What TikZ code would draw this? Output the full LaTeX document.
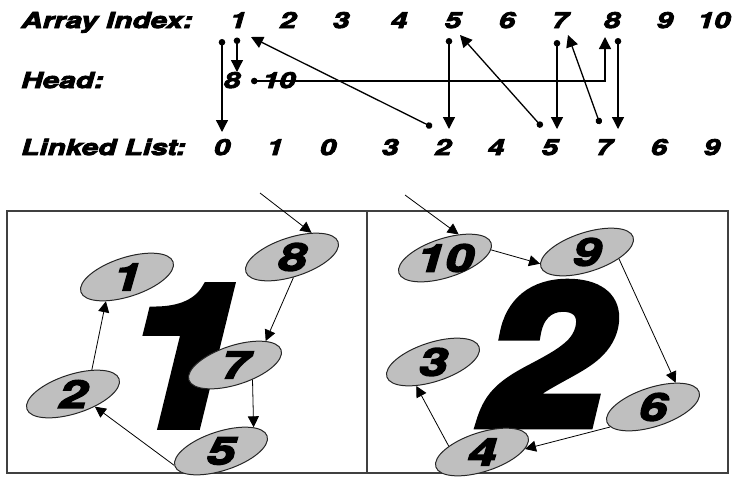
\documentclass[tikz,border=0pt]{standalone}
\usepackage{fontspec}
\usetikzlibrary{arrows.meta,shapes.geometric}
\newfontfamily\blk{texgyreheros-bolditalic}[Extension=.otf,FakeStretch=1.35,FakeBold=4]
\newfontfamily\bigf{texgyreheros-bolditalic}[Extension=.otf,FakeStretch=1.15,FakeBold=6]
\begin{document}
\begin{tikzpicture}[x=1pt,y=-1pt,
  lbl/.style={font=\blk\fontsize{22}{24}\selectfont, inner sep=0pt, anchor=base},
  num/.style={font=\blk\fontsize{22}{24}\selectfont, inner sep=0pt, anchor=base},
  big/.style={font=\bigf\fontsize{192}{200}\selectfont, inner sep=0pt},
  ell/.style={ellipse, draw=black!85, fill=black!25, line width=1pt,
    minimum width=97pt, minimum height=39pt, inner sep=0pt, rotate=18},
  elltxt/.style={font=\blk\fontsize{38}{40}\selectfont, inner sep=0pt},
  tarr/.style={line width=1.3pt, {Circle[length=6.5pt]}-{Triangle[length=12pt,width=12pt]}},
  parr/.style={line width=0.8pt, -{Triangle[length=11pt,width=11pt]}},
  panel/.style={draw=black!75, line width=1.3pt}]
\useasboundingbox (0,0) rectangle (744,483);

% rows
\node[lbl, anchor=base west] (ai) at (21,28) {Array Index:};
\node[lbl, anchor=base west] (hd) at (21,88) {Head:};
\node[lbl, anchor=base west] (ll) at (21,155) {Linked List:};

\foreach \n/\x in {1/238,2/288,3/341,4/399,5/453,6/507,7/560,8/612,9/665,10/714}
  \node[num] (i\n) at (\x,28) {\n};

\node[num] (h8) at (232,88) {8};
\node[num] (h10) at (279,88) {10};

\foreach \k/\v/\x in {1/0/222,2/1/275,3/0/328,4/3/390,5/2/443,6/4/496,7/5/550,8/7/604,9/6/659,10/9/712}
  \node[num] (l\k) at (\x,155) {\v};

% top connectors
\coordinate (dA) at (222,39);   \coordinate (eA) at (222,132);
\coordinate (dB) at (237,37.5); \coordinate (eB) at (237,72);
\coordinate (dC) at (432,127);  \coordinate (eC) at (251,37);
\coordinate (dD) at (251,81);   \coordinate (kD) at (605,81); \coordinate (eD) at (605,37);
\coordinate (dE) at (449,38);   \coordinate (eE) at (449,129);
\coordinate (dF) at (542,127);  \coordinate (eF) at (460,35);
\coordinate (dG) at (557,40);   \coordinate (eG) at (557,129);
\coordinate (dH) at (600,124);  \coordinate (eH) at (568,35);
\coordinate (dI) at (618,38);   \coordinate (eI) at (618,129);

\draw[tarr] (dA) -- (eA);
\draw[tarr] (dB) -- (eB);
\draw[tarr] (dC) -- (eC);
\draw[tarr] (dD) -- (kD) -- (eD);
\draw[tarr] (dE) -- (eE);
\draw[tarr] (dF) -- (eF);
\draw[tarr] (dG) -- (eG);
\draw[tarr] (dH) -- (eH);
\draw[tarr] (dI) -- (eI);

% panels
\draw[panel] (7,211) rectangle (367,473);
\draw[panel] (367,211) rectangle (728,473);

\node[big] (b1) at (182,356) {1};
\node[big] (b2) at (545,354) {2};

% left ellipses
\node[ell] (e1) at (127,277) {};
\node[ell] (e8) at (292,257) {};
\node[ell] (e7) at (235,365) {};
\node[ell] (e2) at (73,394) {};
\node[ell] (e5) at (221,451) {};
\node[elltxt] (t1) at (e1) {1};
\node[elltxt] (t8) at (e8) {8};
\node[elltxt] (t7) at (e7) {7};
\node[elltxt] (t2) at (e2) {2};
\node[elltxt] (t5) at (e5) {5};

% right ellipses
\node[ell] (e10) at (445,258) {};
\node[ell] (e9) at (587,252) {};
\node[ell] (e3) at (433,362) {};
\node[ell] (e6) at (653,407) {};
\node[ell] (e4) at (482,452) {};
\node[elltxt] (t10) at (e10) {10};
\node[elltxt] (t9) at (e9) {9};
\node[elltxt] (t3) at (e3) {3};
\node[elltxt] (t6) at (e6) {6};
\node[elltxt] (t4) at (e4) {4};

% panel connectors
\coordinate (s1) at (260,193);
\coordinate (s2) at (405,195);
\draw[parr] (s1) -- (e8.33);
\draw[parr] (e8.-104) -- (e7.20);
\draw[parr] (e7.-58) -- (e5.18);
\draw[parr] (e5.179) -- (e2.-48);
\draw[parr] (e2.34) -- (e1.211);

\draw[parr] (s2) -- (e10.42);
\draw[parr] (e10.-8) -- (e9.176);
\draw[parr] (e9.-30) -- (e6.29);
\draw[parr] (e6.187) -- (e4.-14);
\draw[parr] (e4.152) -- (e3.217);
\end{tikzpicture}
\end{document}
